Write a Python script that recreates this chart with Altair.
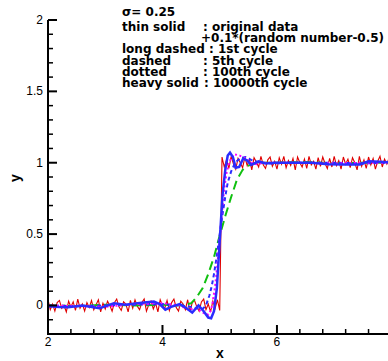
import altair as alt
import pandas as pd

# ---------------- data ----------------
# original data + noise, sampled on a 0.04 grid from x=2.00 to x=7.96
red_x = [round(2 + 0.04 * i, 2) for i in range(150)]
red_y = [
    0.04, -0.03, 0.01, -0.04, 0.02, 0.035, -0.02, 0.00, -0.045, 0.03,
    -0.01, 0.025, -0.035, 0.045, -0.02, 0.01, -0.04, 0.02, -0.015, 0.035,
    -0.03, 0.005, 0.04, -0.045, 0.015, -0.025, 0.03, 0.0, -0.04, 0.02,
    0.045, -0.01, -0.035, 0.025, 0.01, -0.045, 0.035, -0.02, 0.04, -0.005,
    -0.03, 0.02, 0.045, -0.04, 0.005, 0.03, -0.025, 0.015, -0.045, 0.04,
    0.0, -0.02, 0.035, -0.035, 0.02, 0.045, -0.015, -0.04, 0.03, 0.01,
    -0.03, 0.04, -0.045, 0.02, 0.035, -0.01, -0.04, 0.025, 0.045, -0.03,
    0.01, -0.045, 0.03, -0.02, 0.04, -0.035,
    1.04, 0.97, 1.02, 0.96, 1.045, 0.99, 0.955, 1.03, 1.0, 0.965,
    1.04, 0.98, 1.025, 0.95, 1.035, 1.005, 0.97, 1.045, 0.985, 0.96,
    1.02, 1.04, 0.975, 1.01, 0.955, 1.035, 0.99, 1.045, 0.965, 1.015,
    0.98, 1.03, 0.95, 1.04, 1.0, 0.97, 1.025, 0.96, 1.045, 0.985,
    1.01, 0.955, 1.035, 0.975, 1.04, 0.995, 0.96, 1.03, 0.97, 1.045,
    0.98, 1.015, 0.955, 1.04, 0.99, 1.025, 0.965, 1.035, 1.0, 0.95,
    1.045, 0.975, 1.02, 0.96, 1.04, 0.985, 1.03, 0.955, 1.01, 1.045,
    0.97, 1.025, 0.99, 1.035,
]

# 1st cycle (long dashed)
c1_x = [2.0, 2.5, 3.0, 3.5, 4.0, 4.3, 4.5, 4.6, 4.7, 4.8, 4.9, 5.0, 5.1, 5.2,
        5.3, 5.4, 5.5, 5.6, 5.7, 5.9, 6.5, 7.0, 7.5, 7.96]
c1_y = [0.0, -0.005, 0.005, 0.0, 0.005, 0.0, 0.015, 0.06, 0.12, 0.22, 0.34,
        0.49, 0.63, 0.76, 0.88, 0.95, 0.98, 0.995, 1.0, 1.0, 1.005, 0.995,
        1.0, 1.0]

# 5th cycle (dashed)
c5_x = [2.0, 2.5, 3.0, 3.5, 4.0, 4.3, 4.5, 4.6, 4.7, 4.76, 4.82, 4.86, 4.9,
        4.95, 5.0, 5.05, 5.1, 5.14, 5.2, 5.27, 5.35, 5.45, 5.55, 5.7, 5.9,
        6.3, 7.0, 7.5, 7.96]
c5_y = [0.0, -0.005, 0.0, 0.005, 0.01, 0.0, -0.01, -0.02, -0.025, 0.0, 0.07,
        0.135, 0.22, 0.35, 0.5, 0.64, 0.77, 0.86, 0.94, 1.0, 1.03, 1.04, 1.02,
        1.0, 0.995, 1.0, 1.0, 0.995, 1.0]

# 100th cycle (dotted)
c100_x = [2.0, 2.5, 3.0, 3.5, 4.0, 4.3, 4.45, 4.6, 4.7, 4.8, 4.85, 4.88,
          4.92, 4.96, 5.0, 5.04, 5.08, 5.12, 5.17, 5.25, 5.35, 5.45, 5.55,
          5.65, 5.8, 6.0, 6.5, 7.0, 7.5, 7.96]
c100_y = [0.0, -0.005, -0.01, 0.01, 0.015, 0.0, -0.03, -0.02, -0.05, -0.065,
          -0.03, 0.03, 0.135, 0.29, 0.47, 0.65, 0.82, 0.93, 1.01, 1.06, 1.05,
          1.03, 1.0, 0.99, 1.0, 1.0, 1.0, 0.995, 1.0, 1.0]

# 10000th cycle (heavy solid)
c10k_x = [2.0, 2.2, 2.35, 2.6, 2.9, 3.15, 3.35, 3.6, 3.85, 3.95, 4.05, 4.15,
          4.3, 4.42, 4.52, 4.63, 4.72, 4.8, 4.85, 4.9, 4.95, 5.0, 5.05, 5.1,
          5.14, 5.18, 5.23, 5.28, 5.34, 5.41, 5.48, 5.55, 5.68, 5.8, 5.95,
          6.2, 6.6, 6.9, 7.2, 7.45, 7.6, 7.8, 7.96]
c10k_y = [-0.005, -0.01, -0.012, 0.0, -0.02, 0.015, 0.005, 0.018, 0.028,
          0.01, -0.03, -0.01, 0.01, -0.02, -0.05, 0.0, -0.04, -0.085, -0.09,
          -0.04, 0.12, 0.45, 0.78, 0.96, 1.05, 1.07, 1.04, 0.965, 0.97, 1.03,
          1.015, 0.985, 1.01, 0.995, 1.0, 1.0, 1.0, 0.99, 0.988, 0.988, 1.01,
          1.006, 1.003]

x_major = [2, 4, 6]
x_labels = ["2", "4", "6"]
x_minor = [2.4, 2.8, 3.2, 3.6, 4.4, 4.8, 5.2, 5.6, 6.4, 6.8, 7.2, 7.6]
y_major = [0, 0.5, 1, 1.5, 2]
y_labels = ["0", "0.5", "1", "1.5", "2"]
y_minor = [-0.1, 0.1, 0.2, 0.3, 0.4, 0.6, 0.7, 0.8, 0.9, 1.1, 1.2, 1.3, 1.4,
           1.6, 1.7, 1.8, 1.9]

# ---------------- chart ----------------
FONT = "Liberation Sans"
TFONT = "DejaVu Sans"
W, H = 340, 314
X0, X1 = 2, 7.94
Y0, Y1 = -0.2, 2
xs = alt.Scale(domain=[X0, X1], nice=False, zero=False)
ys = alt.Scale(domain=[Y0, Y1], nice=False, zero=False)
PX_X = (X1 - X0) / W   # data units per pixel along x
PX_Y = (Y1 - Y0) / H   # data units per pixel along y


def line(xv, yv, color, width, dash=None):
    df = pd.DataFrame({"x": xv, "y": yv})
    kw = dict(clip=True, color=color, strokeWidth=width)
    if dash is not None:
        kw["strokeDash"] = dash
    return alt.Chart(df).mark_line(**kw).encode(
        x=alt.X("x:Q", scale=xs, axis=None),
        y=alt.Y("y:Q", scale=ys, axis=None),
    )


def yticks(vals, length, width):
    n = len(vals)
    df = pd.DataFrame({"v": vals, "a": [X0] * n, "b": [X0 + length * PX_X] * n})
    return alt.Chart(df).mark_rule(
        color="black", strokeWidth=width, strokeCap="butt").encode(
        y=alt.Y("v:Q", scale=ys, axis=None),
        x=alt.X("a:Q", scale=xs, axis=None),
        x2=alt.X2("b:Q"))


def xticks(vals, length, width):
    n = len(vals)
    df = pd.DataFrame({"v": vals, "a": [Y0] * n, "b": [Y0 + length * PX_Y] * n})
    return alt.Chart(df).mark_rule(
        color="black", strokeWidth=width, strokeCap="butt").encode(
        x=alt.X("v:Q", scale=xs, axis=None),
        y=alt.Y("a:Q", scale=ys, axis=None),
        y2=alt.Y2("b:Q"))


def label(text, px, py):
    return alt.Chart(pd.DataFrame({"t": [text]})).mark_text(
        align="left", baseline="middle", font=TFONT, fontSize=12,
        fontWeight="bold", color="black").encode(
        x=alt.value(px), y=alt.value(py), text="t:N")


# axis lines
y_domain = alt.Chart(pd.DataFrame({"d": [0]})).mark_rule(
    color="black", strokeWidth=2).encode(
    x=alt.value(0), y=alt.value(0), y2=alt.value(H + 1))
x_domain = alt.Chart(pd.DataFrame({"d": [0]})).mark_rule(
    color="black", strokeWidth=2).encode(
    x=alt.value(-1), x2=alt.value(W), y=alt.value(H))

# tick labels
y_tick_labels = alt.Chart(pd.DataFrame({"v": y_major, "t": y_labels})).mark_text(
    align="right", baseline="middle", font=FONT, fontSize=12, color="black").encode(
    y=alt.Y("v:Q", scale=ys, axis=None), x=alt.value(-5), text="t:N")
x_tick_labels = alt.Chart(pd.DataFrame({"v": x_major, "t": x_labels})).mark_text(
    align="center", baseline="middle", font=FONT, fontSize=12, color="black").encode(
    x=alt.X("v:Q", scale=xs, axis=None), y=alt.value(H + 8), text="t:N")

# axis titles
x_title = alt.Chart(pd.DataFrame({"t": ["x"]})).mark_text(
    align="center", baseline="middle", font=FONT, fontSize=14,
    fontWeight="bold", color="black").encode(
    x=alt.value(172), y=alt.value(H + 20), text="t:N")
y_title = alt.Chart(pd.DataFrame({"t": ["y"]})).mark_text(
    align="center", baseline="middle", font=FONT, fontSize=14,
    fontWeight="bold", color="black", angle=270).encode(
    x=alt.value(-32), y=alt.value(158), text="t:N")

layers = [
    line(red_x, red_y, "#e00000", 1.1),
    line(c1_x, c1_y, "#10c010", 2, dash=[9, 5]),
    line(c5_x, c5_y, "#2b2bff", 2, dash=[4, 3]),
    line(c100_x, c100_y, "#ff00ff", 2, dash=[2, 2.5]),
    line(c10k_x, c10k_y, "#2b2bff", 2.5),
    y_domain, x_domain,
    yticks(y_major, 9, 2), yticks(y_minor, 5, 1.5),
    xticks(x_major, 9, 2), xticks(x_minor, 5, 1.5),
    y_tick_labels, x_tick_labels, x_title, y_title,
    label("σ= 0.25", 74, -8.5),
    label("thin solid", 74, 6.5), label(": original data", 155, 6.5),
    label("+0.1*(random number-0.5)", 153, 17.5),
    label("long dashed : 1st cycle", 74, 29),
    label("dashed", 74, 40.5), label(": 5th cycle", 155, 40.5),
    label("dotted", 74, 52), label(": 100th cycle", 155, 52),
    label("heavy solid", 74, 63.3), label(": 10000th cycle", 156, 63.3),
]

chart = alt.layer(*layers).properties(
    width=W, height=H,
    autosize=alt.AutoSizeParams(type="none"),
    padding={"left": 48, "top": 20, "right": 0, "bottom": 27},
).configure_view(stroke=None)

chart.save("out.html", embed_options={"renderer": "svg", "actions": False})
